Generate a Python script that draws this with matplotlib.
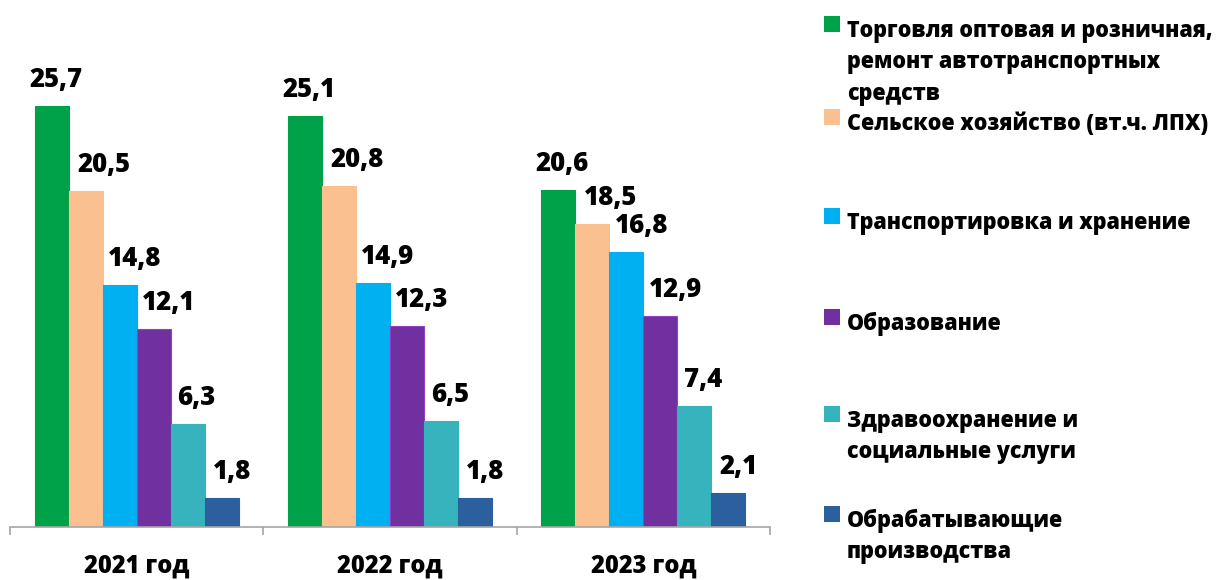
import matplotlib
matplotlib.use("Agg")
import matplotlib.pyplot as plt
from matplotlib.patches import Rectangle
import numpy as np

plt.rcParams['font.family'] = ['Open Sans', 'DejaVu Sans']
plt.rcParams['font.weight'] = 'bold'

years = ["2021 год", "2022 год", "2023 год"]
series_names = [
    "Торговля оптовая и розничная,\nремонт автотранспортных\nсредств",
    "Сельское хозяйство (вт.ч. ЛПХ)",
    "Транспортировка и хранение",
    "Образование",
    "Здравоохранение и\nсоциальные услуги",
    "Обрабатывающие\nпроизводства",
]
trade = [25.7, 25.1, 20.6]
agriculture = [20.5, 20.8, 18.5]
transport = [14.8, 14.9, 16.8]
education = [12.1, 12.3, 12.9]
health = [6.3, 6.5, 7.4]
manufacturing = [1.8, 1.8, 2.1]
series_values = [trade, agriculture, transport, education, health, manufacturing]

colors = ['#00A249', '#FAC090', '#00B0F0', '#7030A0', '#36B3BC', '#2B5F9E']
edges = ['#00A249', '#FAC090', '#00B0F0', '#9440C8', '#36B3BC', '#2B5F9E']
label_dx_px = [4, 18, 15, 15, 9, 10]
legend_y_px = [28, 121, 220, 321, 418, 518]

W, H = 1227, 580
fig = plt.figure(figsize=(W / 100, H / 100), dpi=100)
ax_left, ax_right, ax_bottom_px = 10, 770, 527
ymax = 30
px_per_unit = 16.38
ax_h = ymax * px_per_unit
ax = fig.add_axes([ax_left / W, 1 - ax_bottom_px / H, (ax_right - ax_left) / W, ax_h / H])

x = np.arange(len(years))
w = 34 / ((ax_right - ax_left) / 3)
n = len(series_values)
for i, vals in enumerate(series_values):
    pos = x + (i - (n - 1) / 2) * w
    ax.bar(pos, vals, width=w, color=colors[i], edgecolor=edges[i], linewidth=0.8)
    for xp, v in zip(pos, vals):
        ax.annotate(f"{v:.1f}".replace('.', ','), (xp, v),
                    xytext=(label_dx_px[i] * 0.72, 26 * 0.72), textcoords='offset points',
                    ha='center', va='center', fontsize=18.5, fontweight='heavy', color='black')

ax.set_xlim(-0.5, len(years) - 0.5)
ax.set_ylim(0, ymax)
for s in ['top', 'right', 'left']:
    ax.spines[s].set_visible(False)
ax.spines['bottom'].set_color('#A6A6A6')
ax.spines['bottom'].set_linewidth(1.2)
ax.set_yticks([])
ax.set_xticks(x)
ax.set_xticklabels(years, fontsize=17, fontweight='heavy')
ax.tick_params(axis='x', which='major', length=0, pad=19)
ax.set_xticks(np.arange(len(years) + 1) - 0.5, minor=True)
ax.tick_params(axis='x', which='minor', length=6, color='#A6A6A6', width=1.2, direction='out')

# legend
line_step = 31.5
for i, name in enumerate(series_names):
    y0 = legend_y_px[i]
    fig.patches.append(Rectangle((824 / W, 1 - (y0 + 4) / H), 16 / W, 16 / H,
                                 transform=fig.transFigure, facecolor=colors[i],
                                 edgecolor='none'))
    for k, line in enumerate(name.split('\n')):
        fig.text(847 / W, 1 - (y0 + k * line_step) / H, line, ha='left', va='center_baseline',
                 fontsize=15.5, fontweight='heavy', color='black')

fig.savefig('out.png', dpi=100)
